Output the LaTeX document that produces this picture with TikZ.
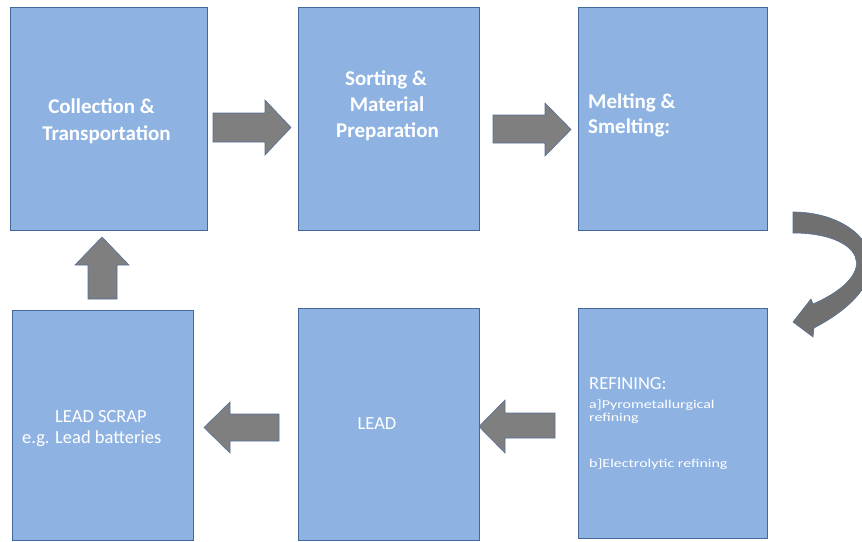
\documentclass[tikz,border=0pt]{standalone}
\usepackage{fontspec}
\usepackage{graphicx}
\setmainfont{Carlito}
\definecolor{boxfill}{RGB}{142,179,226}
\definecolor{boxedge}{RGB}{66,104,156}
\definecolor{arrowgray}{RGB}{127,127,127}
\definecolor{curvegray}{RGB}{112,112,112}
\definecolor{arrowedge}{RGB}{84,112,150}
\begin{document}
\begin{tikzpicture}[x=1pt,y=-1pt,
  stage/.style={rectangle, draw=boxedge, line width=1.1pt, fill=boxfill, inner sep=0pt, anchor=north west},
  bigtxt/.style={text=white, font=\fontsize{21}{25}\selectfont\bfseries, inner sep=0pt},
  midtxt/.style={text=white, font=\fontsize{18.5}{22}\selectfont, inner sep=0pt},
  smalltxt/.style={text=white, font=\fontsize{12}{14}\selectfont, inner sep=0pt, anchor=base west},
  blockarrow/.style={fill=arrowgray, draw=arrowedge, line width=0.6pt, line join=miter},
  bentarrow/.style={fill=curvegray, draw=arrowedge, line width=0.6pt, line join=miter},
]
\useasboundingbox (0,0) rectangle (862,541);
\clip (0,0) rectangle (862,541);

% process stages
\node[stage, minimum width=197pt, minimum height=223pt] (collect) at (10,7) {};
\node[stage, minimum width=181pt, minimum height=223pt] (sort)    at (298,7) {};
\node[stage, minimum width=189pt, minimum height=223pt] (melt)    at (578,7) {};
\node[stage, minimum width=189pt, minimum height=230pt] (refine)  at (578,308) {};
\node[stage, minimum width=181pt, minimum height=232pt] (lead)    at (298,308) {};
\node[stage, minimum width=181pt, minimum height=230pt] (scrap)   at (12,310) {};

% stage labels
\node[bigtxt, anchor=base] (collectA) at (101.5,113) {Collection \&};
\node[bigtxt, anchor=base] (collectB) at (106.5,140) {Transportation};

\node[bigtxt, anchor=base] (sortA) at (386,85)  {Sorting \&};
\node[bigtxt, anchor=base] (sortB) at (387,111) {Material};
\node[bigtxt, anchor=base] (sortC) at (387.5,137) {Preparation};

\node[bigtxt, anchor=base west] (meltA) at (588,108) {Melting \&};
\node[bigtxt, anchor=base west] (meltB) at (588,133) {Smelting:};

\node[midtxt, anchor=base west] (refineA) at (589,389) {REFINING:};
\node[smalltxt] (refineB) at (589,408) {\scalebox{1.33}[1]{a]Pyrometallurgical}};
\node[smalltxt] (refineC) at (589,421) {\scalebox{1.33}[1]{refining}};
\node[smalltxt] (refineD) at (589,467) {\scalebox{1.33}[1]{b]Electrolytic refining}};

\node[midtxt, anchor=base] (leadA) at (377,429) {LEAD};

\node[midtxt, anchor=base] (scrapA) at (101,422) {LEAD SCRAP};
\node[midtxt, anchor=base west] (scrapB) at (22,443) {e.g. Lead batteries};

% block arrows between stages
\path[blockarrow] (213,113) -- (265,113) -- (265,100) -- (291,127.5)
  -- (265,155) -- (265,142) -- (213,142) -- cycle;
\path[blockarrow] (493,115) -- (545,115) -- (545,103) -- (571,129.5)
  -- (545,156) -- (545,143) -- (493,143) -- cycle;
\path[blockarrow] (555,413) -- (505,413) -- (505,400) -- (479,426.5)
  -- (505,453) -- (505,438) -- (555,438) -- cycle;
\path[blockarrow] (279,414) -- (230,414) -- (230,402) -- (204,427.5)
  -- (230,453) -- (230,441) -- (279,441) -- cycle;
\path[blockarrow] (88,299) -- (88,265) -- (75,265) -- (102,237)
  -- (129,265) -- (117,265) -- (117,299) -- cycle;

% curved arrow from melting down to refining
\path[bentarrow] (793,212) .. controls (865,212) and (915,275) .. (814,328)
  -- (813,337) -- (793,322) -- (811,299) -- (813,304)
  .. controls (885,272) and (860,233) .. (793,233) -- cycle;
\end{tikzpicture}
\end{document}
